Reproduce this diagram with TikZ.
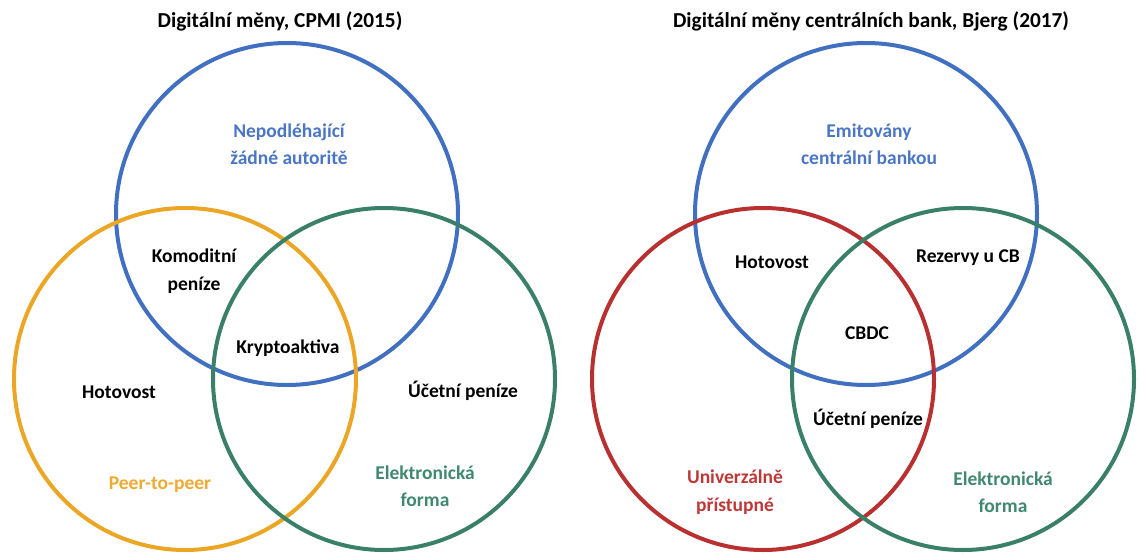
\documentclass[tikz,border=0pt]{standalone}
\usepackage{fontspec}
\setmainfont{Carlito}
\definecolor{cblue}{RGB}{66,112,193}
\definecolor{corange}{RGB}{236,166,38}
\definecolor{cgreen}{RGB}{58,128,104}
\definecolor{cred}{RGB}{184,48,48}
\definecolor{tblue}{RGB}{74,118,196}
\definecolor{torange}{RGB}{238,170,50}
\definecolor{tgreen}{RGB}{64,136,110}
\definecolor{tred}{RGB}{190,56,56}
\tikzset{
  ring/.style={circle, draw=#1, line width=4pt, minimum size=342pt, inner sep=0pt},
  lbl/.style={align=center, inner sep=1pt, font=\bfseries\fontsize{19.5}{27.5}\selectfont},
  ttl/.style={inner sep=1pt, font=\bfseries\fontsize{21.3}{24}\selectfont}
}
\begin{document}
\begin{tikzpicture}[x=1pt,y=-1pt]
\useasboundingbox (0,0) rectangle (1138,554);
% left diagram
\node[ring=cblue] (lb) at (287,214) {};
\node[ring=corange] (lo) at (185,379) {};
\node[ring=cgreen] (lg) at (384,379) {};
\node[ttl] (lt) at (280,21) {Digitální měny, CPMI (2015)};
\node[lbl, text=tblue] (l1) at (289,144) {Nepodléhající\\žádné autoritě};
\node[lbl] (l2) at (194,271) {Komoditní\\peníze};
\node[lbl] (l3) at (288,348) {Kryptoaktiva};
\node[lbl] (l4) at (119,392) {Hotovost};
\node[lbl] (l5) at (463,391) {Účetní peníze};
\node[lbl, text=torange] (l6) at (160,485) {Peer-to-peer};
\node[lbl, text=tgreen] (l7) at (425,486) {Elektronická\\forma};
% right diagram
\node[ring=cblue] (rb) at (866,214) {};
\node[ring=cred] (rr) at (763,379) {};
\node[ring=cgreen] (rg) at (963,379) {};
\node[ttl] (rt) at (871,21) {Digitální měny centrálních bank, Bjerg (2017)};
\node[lbl, text=tblue] (r1) at (869,144) {Emitovány\\centrální bankou};
\node[lbl] (r2) at (772,262) {Hotovost};
\node[lbl] (r3) at (968,258) {Rezervy u CB};
\node[lbl] (r4) at (867,333) {CBDC};
\node[lbl] (r5) at (868,419) {Účetní peníze};
\node[lbl, text=tred] (r6) at (735,492) {Univerzálně\\přístupné};
\node[lbl, text=tgreen] (r7) at (1003,492) {Elektronická\\forma};
\end{tikzpicture}
\end{document}
